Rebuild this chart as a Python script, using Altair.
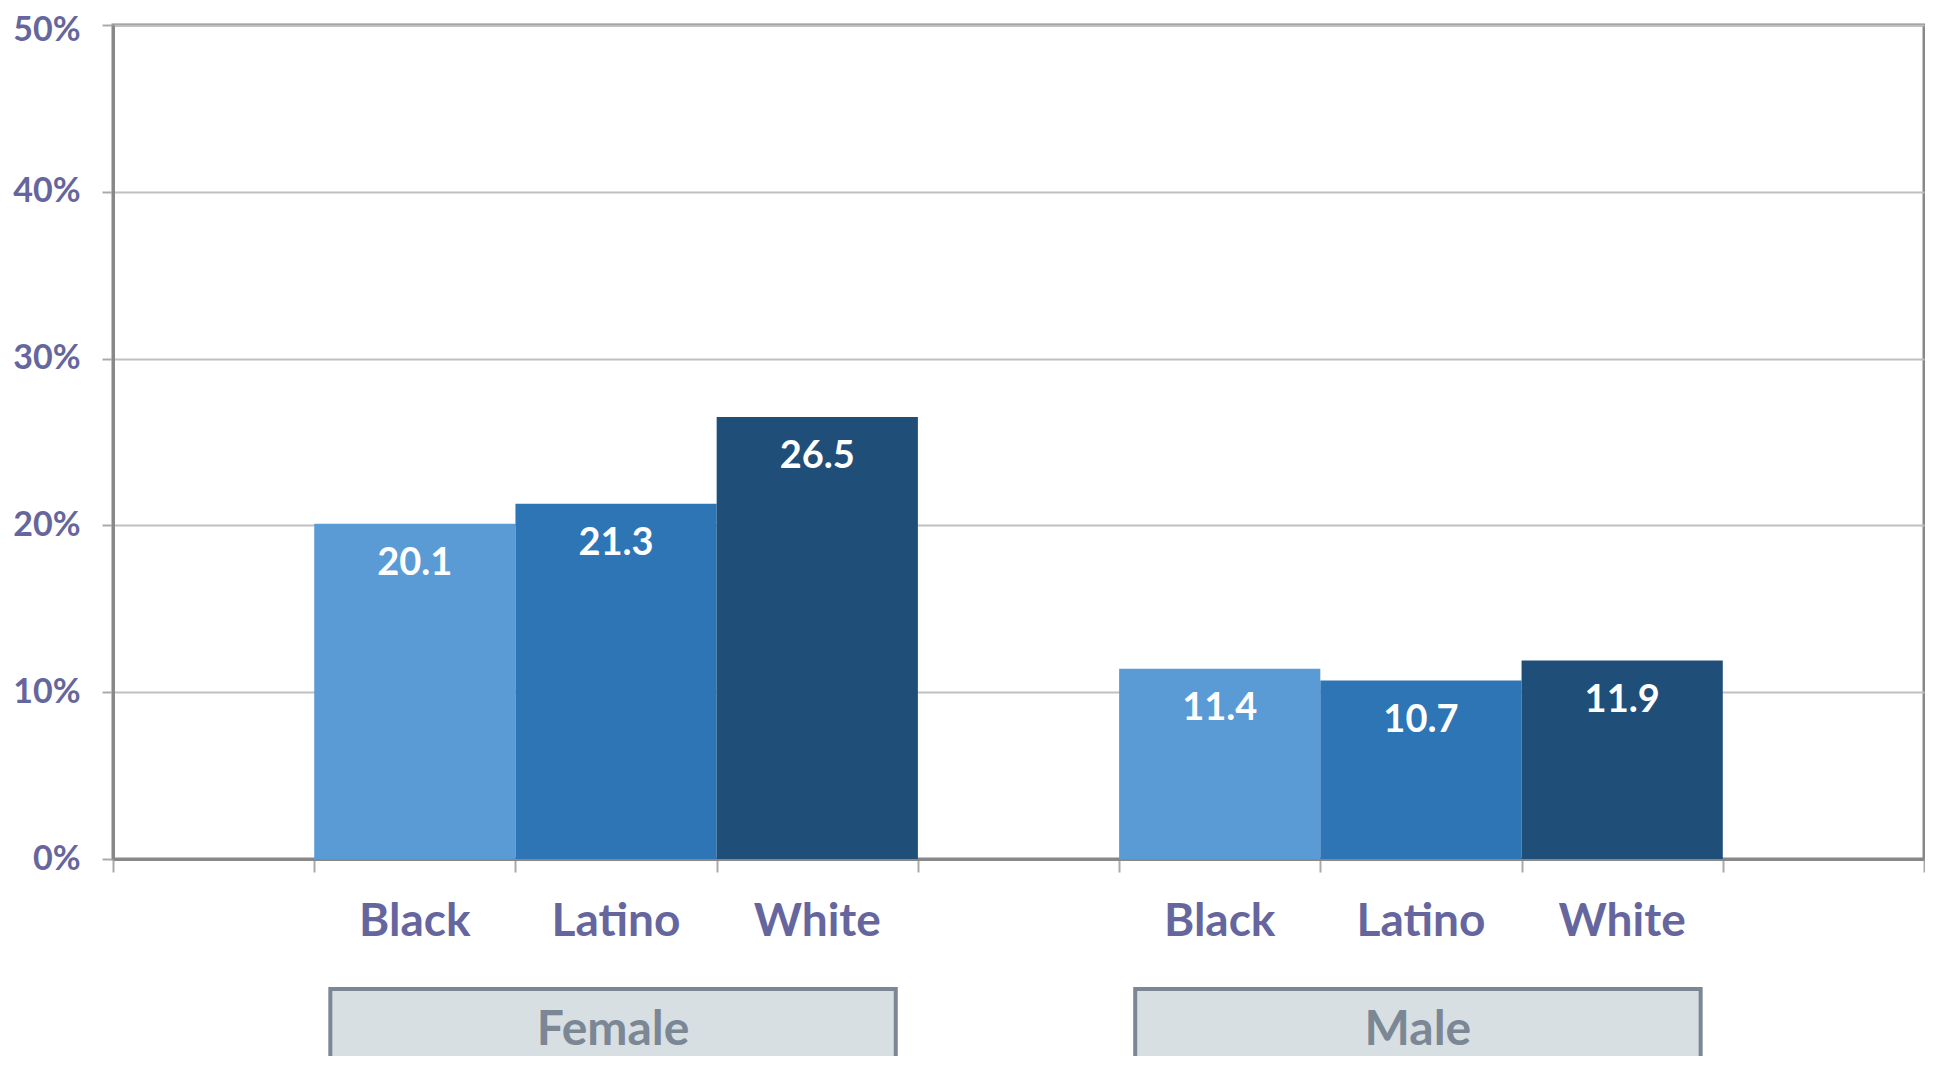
import altair as alt
import pandas as pd

# ---- data ----
groups = ["Female", "Male"]
races = ["Black", "Latino", "White"]
female_values = [20.1, 21.3, 26.5]
male_values = [11.4, 10.7, 11.9]
race_colors = ["#5B9BD5", "#2E75B6", "#1F4E79"]
y_ticks = [0, 10, 20, 30, 40, 50]

# slot layout: empty slot, group A races, empty slot, group B races, empty slot
slots = (["gap"] + [f"Female|{r}" for r in races] + ["gap"]
         + [f"Male|{r}" for r in races] + ["gap"])
n_slots = len(slots)

rows = []
for g, vals in zip(groups, [female_values, male_values]):
    for r, v in zip(races, vals):
        i = slots.index(f"{g}|{r}")
        rows.append({"group": g, "race": r, "value": v, "base": 0,
                     "x0": i, "x1": i + 1, "xc": i + 0.5})
df = pd.DataFrame(rows)

box_rows = []
for g in groups:
    first = slots.index(f"{g}|{races[0]}")
    last = slots.index(f"{g}|{races[-1]}")
    x0 = first + 0.08
    x1 = last + 0.89
    box_rows.append({"group": g, "x0": x0, "x1": x1, "xc": (x0 + x1) / 2})
box_df = pd.DataFrame(box_rows)

LABEL_COLOR = "#66669E"
FONT = "Lato"
PLOT_W = 1811
PLOT_H = 834

xs = alt.Scale(domain=[0, n_slots], nice=False, zero=False)
ys = alt.Scale(domain=[0, 50], nice=False)

x_axis = alt.Axis(
    title=None,
    values=list(range(n_slots + 1)),
    labels=False,
    tickSize=13,
    tickColor="#aaaaaa",
    tickWidth=2,
    domainColor="#888888",
    domainWidth=3,
    grid=False,
)

y_axis = alt.Axis(
    title=None,
    values=y_ticks,
    labelExpr="datum.value + '%'",
    labelOffset={"condition": {"test": "datum.value == 50", "value": 5}, "value": 0},
    tickSize=11,
    tickColor="#aaaaaa",
    tickWidth=2,
    domainColor="#888888",
    domainWidth=3,
    gridColor="#c0c0c0",
    gridWidth=2,
    labelFont=FONT,
    labelFontWeight="bold",
    labelFontSize=34,
    labelColor=LABEL_COLOR,
    labelPadding=22,
)

bars = alt.Chart(df).mark_rect().encode(
    x=alt.X("x0:Q", scale=xs, axis=x_axis),
    x2="x1:Q",
    y=alt.Y("value:Q", scale=ys, axis=y_axis),
    y2="base:Q",
    color=alt.Color("race:N", scale=alt.Scale(domain=races, range=race_colors), legend=None),
)

bar_text = alt.Chart(df).mark_text(
    dy=40, baseline="middle", color="white", font=FONT, fontWeight="bold", fontSize=38
).encode(
    x=alt.X("xc:Q", scale=xs),
    y=alt.Y("value:Q", scale=ys),
    text=alt.Text("value:Q", format=".1f"),
)

cat_text = alt.Chart(df).mark_text(
    baseline="middle", color=LABEL_COLOR, font=FONT, fontWeight="bold", fontSize=46
).encode(
    x=alt.X("xc:Q", scale=xs),
    y=alt.value(897),
    text="race:N",
)

box = alt.Chart(box_df).mark_rect(
    fill="#D8DFE3", stroke="#7B8794", strokeWidth=4
).encode(
    x=alt.X("x0:Q", scale=xs),
    x2="x1:Q",
    y=alt.value(964),
    y2=alt.value(1120),
)

box_text = alt.Chart(box_df).mark_text(
    font=FONT, fontWeight="bold", fontSize=48, color="#7B8794", baseline="middle"
).encode(
    x=alt.X("xc:Q", scale=xs),
    y=alt.value(1006),
    text="group:N",
)

chart = (
    alt.layer(bars, bar_text, cat_text, box, box_text)
    .properties(
        width=PLOT_W,
        height=PLOT_H,
        autosize=alt.AutoSizeParams(type="none"),
        padding={"left": 105, "top": 17, "right": 1, "bottom": 197},
        background="white",
    )
    .configure_view(stroke="#888888", strokeWidth=3)
)

chart.save("out.html", embed_options={"renderer": "svg", "actions": False})
